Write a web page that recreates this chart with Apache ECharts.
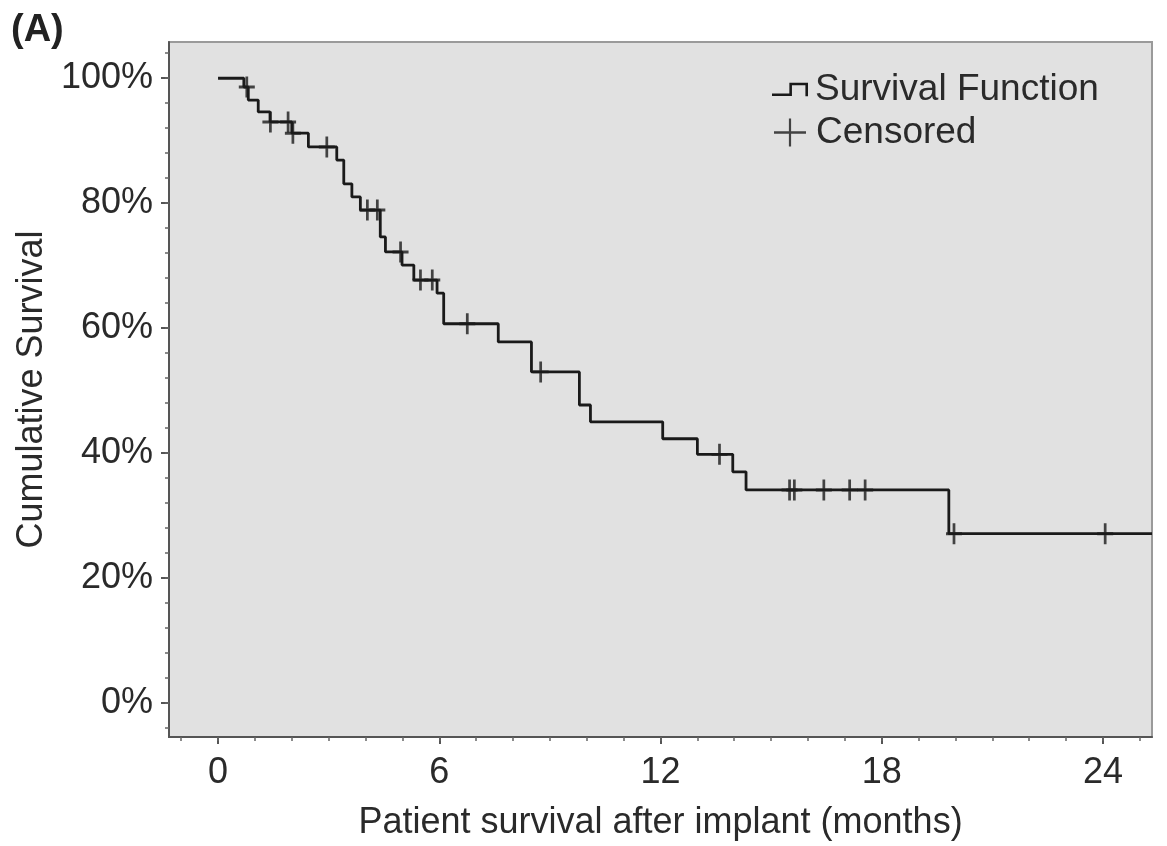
<!DOCTYPE html>
<html lang="en">
<head>
<meta charset="UTF-8">
<title>Cumulative Survival</title>
<style>
  html, body { margin: 0; padding: 0; background: #fff; }
  #main { width: 1167px; height: 846px; }
</style>
</head>
<body>
<div id="main"></div>
<script src="https://cdn.jsdelivr.net/npm/echarts@6/dist/echarts.min.js"></script>
<script>
// Kaplan-Meier steps: month where each level starts, and the level (%)
var stepMonths = [0, 0.7, 0.82, 1.09, 1.41, 2.0, 2.45, 3.22, 3.41, 3.63, 3.86, 4.4, 4.54, 4.99,
  5.31, 5.94, 6.12, 7.6, 8.5, 9.8, 10.1, 12.06, 13.0, 13.96, 14.32, 19.82];
var stepSurvival = [100, 98.6, 96.5, 94.6, 93.0, 91.2, 89.0, 86.9, 83.1, 81.0, 78.9, 74.6, 72.2, 70.1,
  67.7, 65.6, 60.7, 57.8, 53.0, 47.7, 45.0, 42.3, 39.8, 37.0, 34.1, 27.1];
var lastFollowUp = 25.33;

// censored patients (months)
var censorMonths = [0.78, 1.42, 1.9, 2.03, 2.95, 4.05, 4.32, 4.95, 5.49, 5.81, 6.76, 8.75,
  13.6, 15.5, 15.63, 16.43, 17.13, 17.55, 19.96, 24.06];

var xTicks = [0, 6, 12, 18, 24];
var xMinorTicks = [-1, 0, 1, 2, 3, 4, 5, 6, 7, 8, 9, 10, 11, 12, 13, 14, 15, 16, 17, 18, 19, 20, 21, 22, 23, 24, 25];
var yTicks = [0, 20, 40, 60, 80, 100];
var yMinorTicks = [-4, 0, 4, 8, 12, 16, 20, 24, 28, 32, 36, 40, 44, 48, 52, 56, 60, 64, 68, 72, 76, 80, 84, 88, 92, 96, 100, 104];

var font = '"Liberation Sans", Arial, Helvetica, sans-serif';
var ink = '#1a1a1a';
var textColor = '#2a2a2a';

function survivalAt(t) {
  var s = stepSurvival[0];
  for (var i = 0; i < stepMonths.length; i++) {
    if (stepMonths[i] <= t) s = stepSurvival[i];
  }
  return s;
}

var curve = stepMonths.map(function (m, i) { return [m, stepSurvival[i]]; });
curve.push([lastFollowUp, stepSurvival[stepSurvival.length - 1]]);
var censored = censorMonths.map(function (m) { return [m, survivalAt(m)]; });

var xMin = -1.33, xMax = 25.33, yMin = -5.44, yMax = 105.8;
var gridBox = { left: 169, right: 15, top: 42, bottom: 109 };

var stepIcon = 'path://M0,10.25H16.75V0H34.75V13H32.25V2.5H19.25V12.75H0Z';
var plusIcon = 'path://M0,12.8H32V15.2H0Z M14.9,0H17.1V28H14.9Z';
var censorSymbol = 'path://M0,8.6H20V11.4H0Z M8.3,0H11.7V20H8.3Z';

var myChart = echarts.init(document.getElementById('main'), null, { renderer: 'canvas' });

var option = {
  animation: false,
  backgroundColor: '#ffffff',
  textStyle: { fontFamily: font },
  graphic: [{
    type: 'text', left: 11, top: 12,
    style: { text: '(A)', fontSize: 38, fontWeight: 'bold', fill: '#222', fontFamily: font }
  }],
  grid: [
    Object.assign({ show: true, backgroundColor: '#e1e1e1', borderColor: '#9a9a9a', borderWidth: 2 }, gridBox),
    Object.assign({ show: false }, gridBox)
  ],
  legend: [
    {
      data: [{ name: 'Survival Function', icon: stepIcon }],
      left: 767, top: 66, itemWidth: 36, itemHeight: 14, selectedMode: false,
      textStyle: { fontSize: 37, color: textColor, fontFamily: font, padding: [0, 0, 0, 2] }
    },
    {
      data: [{ name: 'Censored', icon: plusIcon }],
      left: 769, top: 109, itemWidth: 32, itemHeight: 28, selectedMode: false,
      textStyle: { fontSize: 37, color: textColor, fontFamily: font, padding: [0, 0, 0, 5] }
    }
  ],
  xAxis: [
    {
      type: 'value', gridIndex: 0, min: xMin, max: xMax,
      name: 'Patient survival after implant (months)', nameLocation: 'middle', nameGap: 68,
      nameTextStyle: { fontSize: 36, color: textColor, fontFamily: font },
      axisLine: { show: true, onZero: false, lineStyle: { color: '#555', width: 2 } },
      axisTick: { show: true, customValues: xTicks, length: 7, lineStyle: { color: '#555', width: 2 } },
      axisLabel: { customValues: xTicks, fontSize: 36, color: textColor, margin: 18, fontFamily: font },
      splitLine: { show: false }
    },
    {
      type: 'value', gridIndex: 1, min: xMin, max: xMax,
      axisLine: { show: false, onZero: false },
      axisTick: { show: true, customValues: xMinorTicks, length: 4, lineStyle: { color: '#666', width: 1.5 } },
      axisLabel: { show: false },
      splitLine: { show: false }
    }
  ],
  yAxis: [
    {
      type: 'value', gridIndex: 0, min: yMin, max: yMax,
      name: 'Cumulative Survival', nameLocation: 'middle', nameGap: 114,
      nameTextStyle: { fontSize: 36, color: textColor, fontFamily: font },
      axisLine: { show: true, onZero: false, lineStyle: { color: '#555', width: 2 } },
      axisTick: { show: true, customValues: yTicks, length: 8, lineStyle: { color: '#555', width: 2 } },
      axisLabel: {
        customValues: yTicks, fontSize: 36, color: textColor, margin: 16, fontFamily: font,
        formatter: function (v) { return v + '%'; }
      },
      splitLine: { show: false }
    },
    {
      type: 'value', gridIndex: 1, min: yMin, max: yMax,
      axisLine: { show: false, onZero: false },
      axisTick: { show: true, customValues: yMinorTicks, length: 4, lineStyle: { color: '#666', width: 1.5 } },
      axisLabel: { show: false },
      splitLine: { show: false }
    }
  ],
  series: [
    {
      name: 'Survival Function',
      type: 'line',
      step: 'end',
      xAxisIndex: 0, yAxisIndex: 0,
      data: curve,
      symbol: 'none',
      lineStyle: { color: ink, width: 2.8 },
      itemStyle: { color: ink },
      z: 3
    },
    {
      name: 'Censored',
      type: 'scatter',
      xAxisIndex: 0, yAxisIndex: 0,
      data: censored,
      symbol: censorSymbol,
      symbolSize: [16, 21],
      itemStyle: { color: ink },
      z: 4
    }
  ]
};

myChart.setOption(option);
</script>
</body>
</html>
